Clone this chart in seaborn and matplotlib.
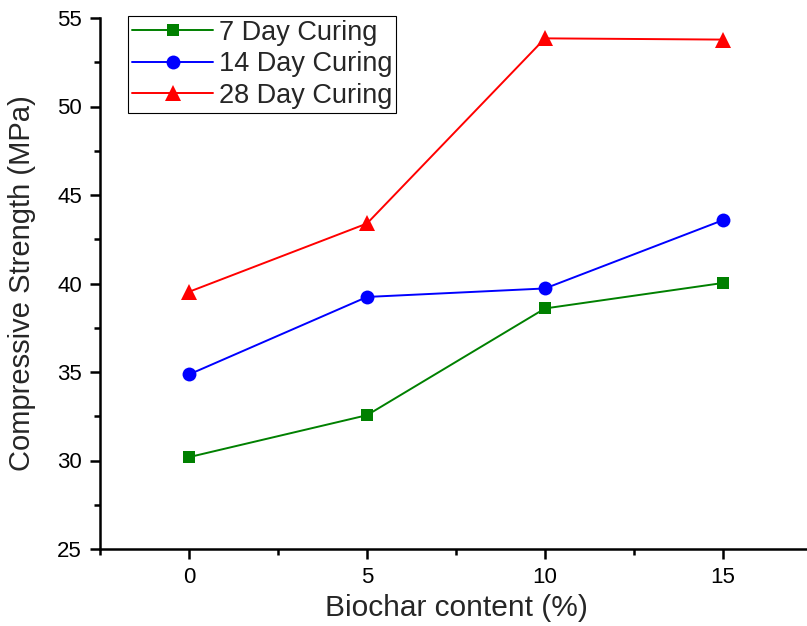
import matplotlib
matplotlib.use("Agg")
import matplotlib.pyplot as plt
from matplotlib.ticker import MultipleLocator
import seaborn as sns
import pandas as pd

biochar = [0, 5, 10, 15]
day7 = [30.19, 32.56, 38.59, 40.03]
day14 = [34.86, 39.24, 39.72, 43.58]
day28 = [39.53, 43.39, 53.85, 53.78]
series_names = ["7 Day Curing", "14 Day Curing", "28 Day Curing"]

rows = []
for name, vals in zip(series_names, [day7, day14, day28]):
    for x, v in zip(biochar, vals):
        rows.append({"Biochar": x, "Strength": v, "Series": name})
df = pd.DataFrame(rows)

sns.set_style("ticks")
plt.rcParams['font.family'] = ['Liberation Sans', 'DejaVu Sans']

fig = plt.figure(figsize=(8.07, 6.26), dpi=100)
ax = fig.add_axes([100 / 807, 77 / 626, 712 / 807, 531 / 626])

palette = {"7 Day Curing": "#008000", "14 Day Curing": "#0000ff", "28 Day Curing": "#ff0000"}
markers = {"7 Day Curing": "s", "14 Day Curing": "o", "28 Day Curing": "^"}
sizes_ms = {"7 Day Curing": 9, "14 Day Curing": 10, "28 Day Curing": 11.5}

sns.lineplot(data=df, x="Biochar", y="Strength", hue="Series", style="Series",
             palette=palette, markers=markers, dashes=False, ax=ax,
             linewidth=1.4, markersize=10, markeredgewidth=0, legend=False)

for line, name in zip(ax.get_lines(), series_names):
    line.set_markersize(sizes_ms[name])
    line.set_label(name)

ax.set_xlim(-2.5, 17.5)
ax.set_ylim(25, 55)
ax.xaxis.set_major_locator(MultipleLocator(5))
ax.xaxis.set_minor_locator(MultipleLocator(2.5))
ax.yaxis.set_major_locator(MultipleLocator(5))
ax.yaxis.set_minor_locator(MultipleLocator(2.5))

for s in ["top", "right"]:
    ax.spines[s].set_visible(False)
for s in ["left", "bottom"]:
    ax.spines[s].set_linewidth(1.8)
    ax.spines[s].set_color("black")

ax.tick_params(which="major", length=7, width=1.8, labelsize=16, colors="black", pad=6)
ax.tick_params(which="minor", length=4, width=1.8, colors="black")

ax.set_xlabel("Biochar content (%)", fontsize=21.5, labelpad=4)
ax.set_ylabel("Compressive Strength (MPa)", fontsize=21)
ax.yaxis.set_label_coords(-64 / 712, 0.5)

leg = ax.legend(loc="upper left", bbox_to_anchor=(28 / 712, 1.004), fontsize=19.5,
                frameon=True, fancybox=False, edgecolor="black", framealpha=1,
                handlelength=3.0, handletextpad=0.2, borderpad=0.15, labelspacing=0.2,
                borderaxespad=0, numpoints=1)
leg.get_frame().set_linewidth(0.8)

fig.savefig("out.png", dpi=100)
